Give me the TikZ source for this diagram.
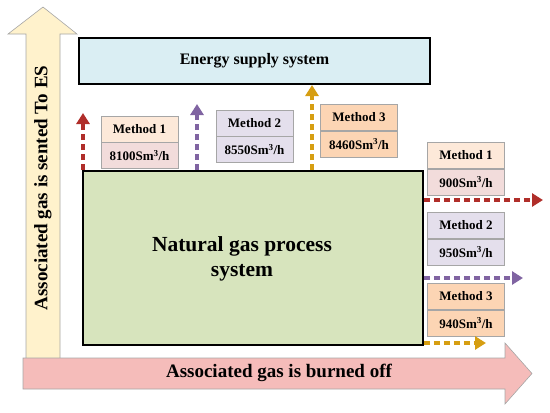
\documentclass[tikz,border=0pt]{standalone}
\usepackage{fontspec}
\setmainfont{Liberation Serif}
\usetikzlibrary{positioning,arrows.meta}
\definecolor{esblue}{HTML}{DAEEF3}
\definecolor{nggreen}{HTML}{D7E4BD}
\definecolor{upyellow}{HTML}{FFF2CC}
\definecolor{burnpink}{HTML}{F5BCBA}
\definecolor{boxgray}{HTML}{A6A6A6}
\definecolor{peachA}{HTML}{FDE9D9}
\definecolor{peachB}{HTML}{F2DCDB}
\definecolor{lilac}{HTML}{E4DFEC}
\definecolor{apricot}{HTML}{FCD5B4}
\definecolor{mred}{HTML}{B02E2A}
\definecolor{mpurple}{HTML}{8064A2}
\definecolor{mgold}{HTML}{D69E12}
\begin{document}
\begin{tikzpicture}[x=1pt, y=-1pt,
  sysbox/.style={draw=black, line width=1.8pt, inner sep=0pt},
  mhead/.style={draw=boxgray, line width=.6pt, minimum width=77pt, minimum height=26pt, inner sep=0pt, font=\fontsize{13}{15}\selectfont\bfseries},
  flow/.style={line width=3.4pt, dash pattern=on 6pt off 4pt, -{Triangle[length=11pt,width=13pt]}},
  bigtext/.style={font=\fontsize{19}{22}\selectfont\bfseries}]
\useasboundingbox (0,0) rectangle (550,413);

% big arrows
\draw[boxgray, fill=upyellow, line width=.6pt](26,358)--(26,34)--(8,34)--(43,7)--(77,34)--(60,34)--(60,358);
\node[bigtext, rotate=90](sent) at (43,188){Associated gas is sented To ES};
\draw[boxgray, fill=burnpink, line width=.6pt](23,358)--(505,358)--(505,343)--(532,373.5)--(505,404)--(505,389)--(23,389)--cycle;
\node[bigtext](burn) at (279,373){Associated gas is burned off};

% systems
\node[sysbox, fill=esblue, minimum width=351pt, minimum height=46pt, font=\fontsize{16}{18}\selectfont\bfseries](es) at (254.5,61){Energy supply system};
\node[sysbox, fill=nggreen, minimum width=340pt, minimum height=174pt](ngps) at (253,258){};
\node[align=center, font=\fontsize{21.5}{25}\selectfont\bfseries](ngtext) at (242,259){Natural gas process\\system};

% methods, gas to ES
\node[mhead, fill=peachA](upA) at (139.5,129){Method 1};
\node[mhead, fill=peachB, below=0pt of upA](upAv){8100Sm\textsuperscript{3}/h};
\node[mhead, fill=lilac](upB) at (254.5,123){Method 2};
\node[mhead, fill=lilac, below=0pt of upB](upBv){8550Sm\textsuperscript{3}/h};
\node[mhead, fill=apricot](upC) at (359,117.5){Method 3};
\node[mhead, fill=apricot, below=0pt of upC](upCv){8460Sm\textsuperscript{3}/h};

% methods, burned off
\node[mhead, fill=peachA](offA) at (466,155.5){Method 1};
\node[mhead, fill=peachB, below=0pt of offA](offAv){900Sm\textsuperscript{3}/h};
\node[mhead, fill=lilac](offB) at (466,225.5){Method 2};
\node[mhead, fill=lilac, below=0pt of offB](offBv){950Sm\textsuperscript{3}/h};
\node[mhead, fill=apricot](offC) at (466,296.5){Method 3};
\node[mhead, fill=apricot, below=0pt of offC](offCv){940Sm\textsuperscript{3}/h};

% flows
\coordinate (tipA) at (83,113);
\coordinate (tipB) at (197,104);
\coordinate (tipC) at (312,85);
\coordinate (endA) at (543,200);
\coordinate (endB) at (523,278);
\coordinate (endC) at (486,343);
\draw[flow, mred](ngps.north -| tipA)--(tipA);
\draw[flow, mpurple](ngps.north -| tipB)--(tipB);
\draw[flow, mgold](ngps.north -| tipC)--(tipC);
\draw[flow, mred](ngps.east |- endA)--(endA);
\draw[flow, mpurple](ngps.east |- endB)--(endB);
\draw[flow, mgold](ngps.east |- endC)--(endC);
\end{tikzpicture}
\end{document}
